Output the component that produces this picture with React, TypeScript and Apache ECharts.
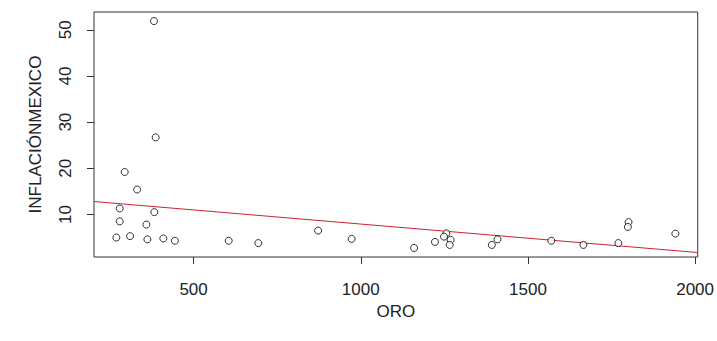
import React, { useEffect, useRef } from "react";
import * as echarts from "echarts";

const oro: number[] = [
  381.5, 386.6, 294, 331, 279, 382.6, 279, 358.8, 269, 310, 361.8, 409.5, 444,
  605, 693.6, 872.4, 972.8, 1159.5, 1222, 1256, 1249, 1268.8, 1266, 1392, 1409,
  1570, 1666, 1770.5, 1801, 1799, 1941,
];
const inflacion: number[] = [
  51.9, 26.7, 19.2, 15.4, 11.3, 10.5, 8.5, 7.8, 5.0, 5.3, 4.6, 4.8, 4.3, 4.3,
  3.8, 6.5, 4.7, 2.75, 4.05, 5.9, 5.2, 4.5, 3.4, 3.4, 4.6, 4.3, 3.4, 3.8, 8.35,
  7.3, 5.85,
];
const xTicks: number[] = [500, 1000, 1500, 2000];
const yTicks: number[] = [10, 20, 30, 40, 50];

export default function App() {
  const ref = useRef<HTMLDivElement>(null);
  useEffect(() => {
    if (!ref.current) return;
    const chart = echarts.init(ref.current, null, { renderer: "svg" });
    const n = oro.length;
    const mx = oro.reduce((a, b) => a + b, 0) / n;
    const my = inflacion.reduce((a, b) => a + b, 0) / n;
    let sxy = 0;
    let sxx = 0;
    for (let i = 0; i < n; i++) {
      sxy += (oro[i] - mx) * (inflacion[i] - my);
      sxx += (oro[i] - mx) * (oro[i] - mx);
    }
    const slope = sxy / sxx;
    const intercept = my - slope * mx;
    const xmin0 = Math.min(...oro);
    const xmax0 = Math.max(...oro);
    const ymin0 = Math.min(...inflacion);
    const ymax0 = Math.max(...inflacion);
    const xr = xmax0 - xmin0;
    const yr = ymax0 - ymin0;
    const xMin = xmin0 - 0.04 * xr;
    const xMax = xmax0 + 0.04 * xr;
    const yMin = ymin0 - 0.04 * yr;
    const yMax = ymax0 + 0.04 * yr;
    const font = "Liberation Sans, Arial, sans-serif";
    const fs = 17;
    chart.setOption({
      animation: false,
      backgroundColor: "#fff",
      grid: {
        left: 94,
        right: 18,
        top: 12,
        bottom: 84,
        show: true,
        borderColor: "#333",
        borderWidth: 1,
        backgroundColor: "transparent",
      },
      xAxis: {
        type: "value",
        min: xMin,
        max: xMax,
        name: "ORO",
        nameLocation: "middle",
        nameGap: 45,
        nameTextStyle: { color: "#222", fontSize: fs, fontFamily: font },
        axisLine: { show: false },
        splitLine: { show: false },
        axisTick: {
          show: true,
          length: 7,
          customValues: xTicks,
          lineStyle: { color: "#333" },
        },
        axisLabel: {
          customValues: xTicks,
          formatter: (v: number) => String(v),
          margin: 24,
          color: "#222",
          fontSize: fs,
          fontFamily: font,
        },
      },
      yAxis: {
        type: "value",
        min: yMin,
        max: yMax,
        name: "INFLACIÓNMEXICO",
        nameLocation: "middle",
        nameGap: 50,
        nameRotate: 90,
        nameTextStyle: { color: "#222", fontSize: fs, fontFamily: font },
        axisLine: { show: false },
        splitLine: { show: false },
        axisTick: {
          show: true,
          length: 7,
          customValues: yTicks,
          lineStyle: { color: "#333" },
        },
        axisLabel: {
          customValues: yTicks,
          formatter: (v: number) => String(v),
          rotate: 90,
          margin: 20,
          color: "#222",
          fontSize: fs,
          fontFamily: font,
        },
      },
      series: [
        {
          type: "scatter",
          data: oro.map((x, i) => [x, inflacion[i]]),
          symbol: "circle",
          symbolSize: 7,
          itemStyle: { color: "#fff", borderColor: "#000", borderWidth: 1 },
          z: 3,
        },
        {
          type: "line",
          data: [
            [xMin, intercept + slope * xMin],
            [xMax, intercept + slope * xMax],
          ],
          symbol: "none",
          lineStyle: { color: "#cc2233", width: 1 },
          z: 2,
        },
      ],
    });
    return () => chart.dispose();
  }, []);
  return (
    <div
      ref={ref}
      style={{ width: 717, height: 341, position: "fixed", left: 0, top: 0 }}
    />
  );
}
